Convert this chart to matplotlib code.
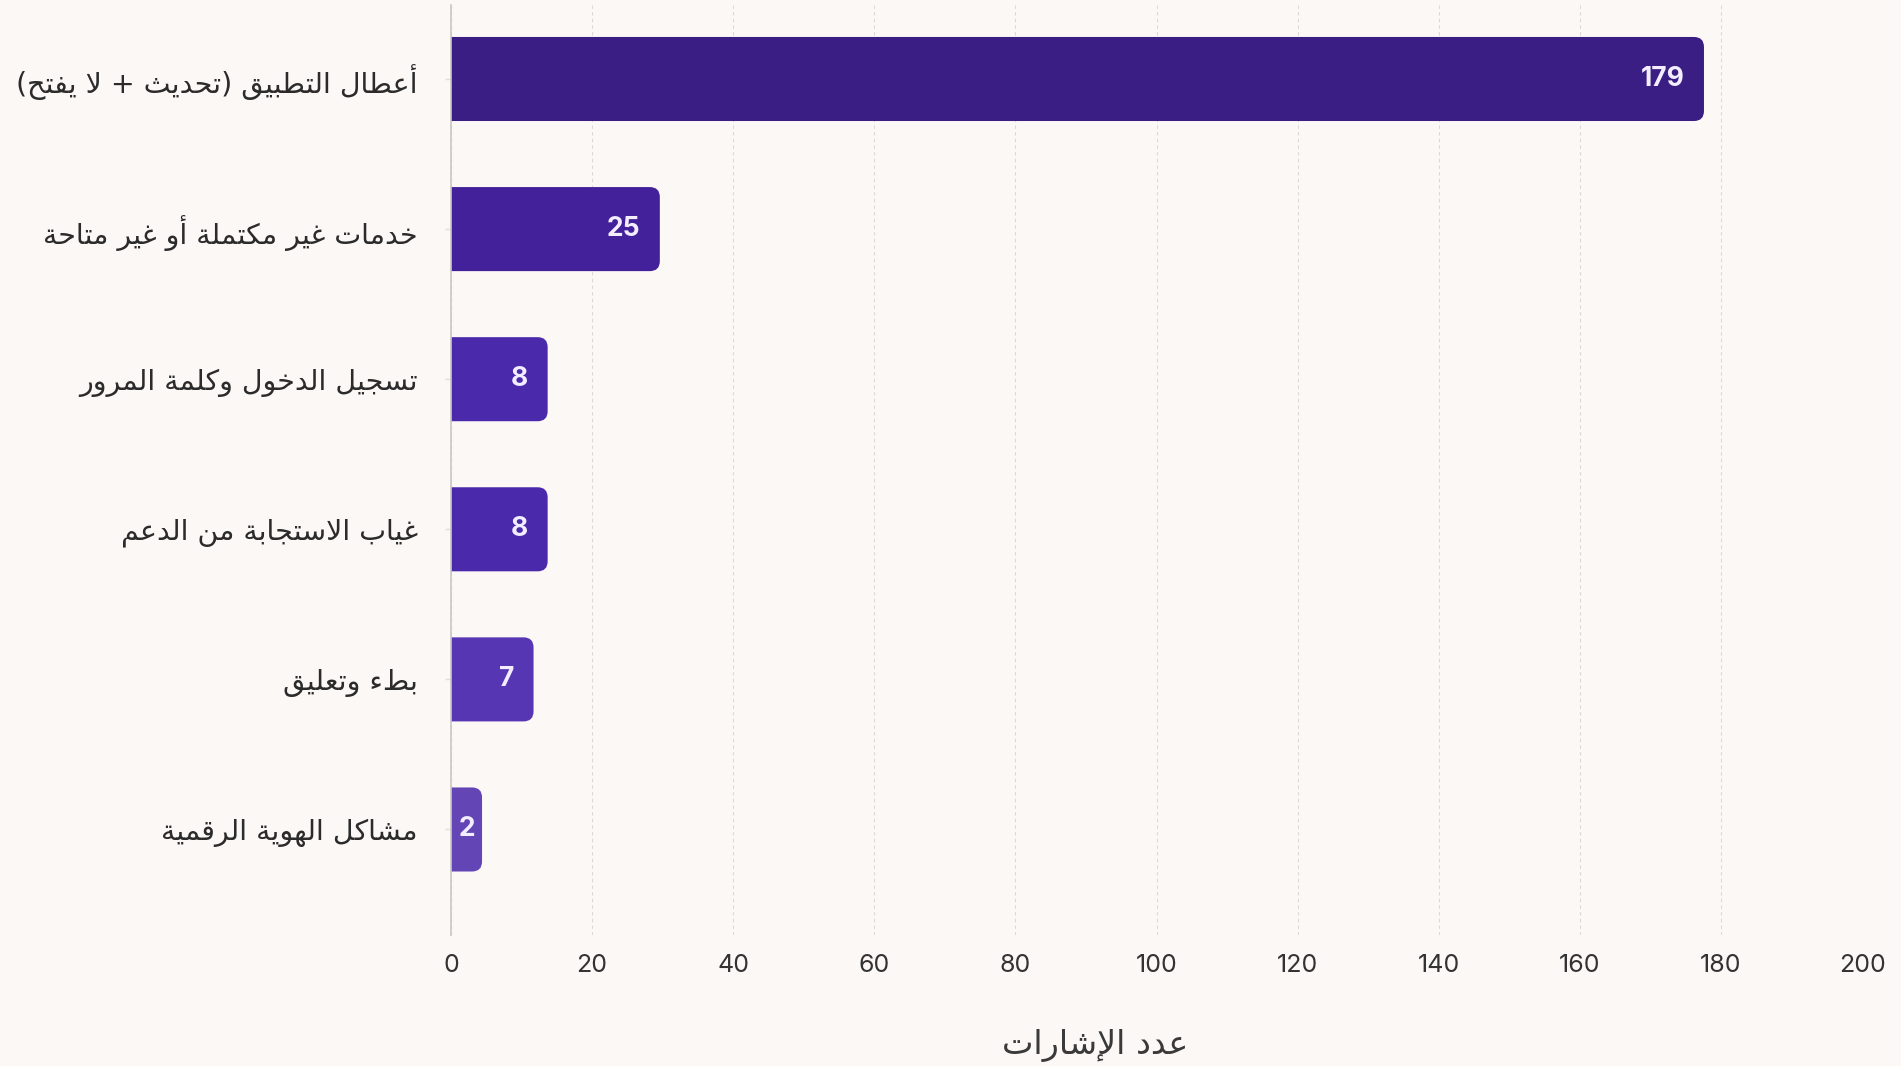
import numpy as np
import matplotlib
matplotlib.use("Agg")
import matplotlib.pyplot as plt
from matplotlib.patches import FancyBboxPatch

# ---- data ----
categories = [
    "أعطال التطبيق (تحديث + لا يفتح)",
    "خدمات غير مكتملة أو غير متاحة",
    "تسجيل الدخول وكلمة المرور",
    "غياب الاستجابة من الدعم",
    "بطء وتعليق",
    "مشاكل الهوية الرقمية",
]
counts = [179, 25, 8, 8, 7, 2]                       # numbers printed in the bars
bar_lengths = [177.6, 29.6, 13.7, 13.7, 11.7, 4.4]   # bar ends as read on the x axis
bar_colors = ["#3a1e84", "#42219a", "#4a2aab", "#4a2aab", "#5736b3", "#6445b5"]
x_ticks = [0, 20, 40, 60, 80, 100, 120, 140, 160, 180, 200]
x_title = "عدد الإشارات"

BG = "#fcf8f6"

# ---- minimal arabic shaping (matplotlib has no complex text layout) ----
DUAL = dict(zip("ئبتثجحخسشصضطظعغفقكلمنهي",
                [0xFE89, 0xFE8F, 0xFE95, 0xFE99, 0xFE9D, 0xFEA1, 0xFEA5, 0xFEB1,
                 0xFEB5, 0xFEB9, 0xFEBD, 0xFEC1, 0xFEC5, 0xFEC9, 0xFECD, 0xFED1,
                 0xFED5, 0xFED9, 0xFEDD, 0xFEE1, 0xFEE5, 0xFEE9, 0xFEF1]))
RIGHT = dict(zip("آأؤإاةدذرزوى",
                 [0xFE81, 0xFE83, 0xFE85, 0xFE87, 0xFE8D, 0xFE93, 0xFEA9, 0xFEAB,
                  0xFEAD, 0xFEAF, 0xFEED, 0xFEEF]))
LAM_ALEF = {"لآ": 0xFEF5, "لأ": 0xFEF7, "لإ": 0xFEF9, "لا": 0xFEFB}
MIRROR = {"(": ")", ")": "("}


def shape(text):
    units = []
    i = 0
    while i < len(text):
        c = text[i]
        pair = text[i:i + 2]
        if pair in LAM_ALEF:
            units.append((LAM_ALEF[pair], 2))
            i += 2
            continue
        if c in DUAL:
            units.append((DUAL[c], 4))
        elif c in RIGHT:
            units.append((RIGHT[c], 2))
        elif c == "ء":
            units.append((0xFE80, 1))
        else:
            units.append((c, 0))
        i += 1
    out = []
    for k, (base, n) in enumerate(units):
        if n == 0:
            out.append(MIRROR.get(base, base))
            continue
        prev_j = n >= 2 and k > 0 and units[k - 1][1] == 4
        next_j = n == 4 and k + 1 < len(units) and units[k + 1][1] >= 2
        if prev_j and next_j:
            idx = 3
        elif next_j:
            idx = 2
        elif prev_j:
            idx = 1
        else:
            idx = 0
        out.append(chr(base + idx))
    return "".join(reversed(out))


AR_FONT = ["DejaVu Sans"]
NUM_FONT = ["Inter", "DejaVu Sans"]

# ---- figure ----
fig = plt.figure(figsize=(19.01, 10.66), dpi=100, facecolor=BG)
ax = fig.add_axes([451 / 1901, 1 - 935 / 1066, (1862 - 451) / 1901, 930 / 1066])
ax.set_facecolor(BG)

y = np.arange(len(categories))
bars = ax.barh(y, bar_lengths, height=0.56, color=bar_colors)

# rounded right corners: replace every bar by a rounded box, left side clipped by the axis
px_x = (1862 - 451) / 200.0
px_y = 150.0
radius = 10.0
for rect, col in zip(bars, bar_colors):
    rect.set_visible(False)
    x0, y0 = rect.get_x(), rect.get_y()
    w, h = rect.get_width(), rect.get_height()
    r = radius / px_x
    box = FancyBboxPatch((x0 - 2 * r, y0), w + 2 * r, h,
                         boxstyle="round,pad=0,rounding_size=%f" % r,
                         mutation_aspect=(radius / px_y) / r,
                         facecolor=col, edgecolor="none", zorder=3)
    ax.add_patch(box)

for yi, ln, c in zip(y, bar_lengths, counts):
    if ln * px_x < 50:
        ax.text(ln / 2, yi, str(c), ha="center", va="center", color="#f3eeff",
                fontsize=19, fontweight="bold", family=NUM_FONT, zorder=4)
    else:
        ax.annotate(str(c), (ln, yi), xytext=(-14, 0), textcoords="offset points",
                    ha="right", va="center", color="#f3eeff", fontsize=19,
                    fontweight="bold", family=NUM_FONT, zorder=4)

ax.set_xlim(0, 200)
ax.set_ylim(5.703, -0.493)
ax.set_xticks(x_ticks)
ax.set_xticklabels([str(t) for t in x_ticks], family=NUM_FONT, fontsize=18, color="#333333")
ax.set_yticks(y)
ax.set_yticklabels([shape(c) for c in categories], family=AR_FONT, fontsize=20.5, color="#2b2b2b")
ax.tick_params(axis="x", length=0, pad=14)
ax.tick_params(axis="y", length=4, width=1, color="#e2dedc", pad=20)

ax.xaxis.grid(True, linestyle=(0, (3, 3)), color="#dcd8d6", linewidth=0.8, zorder=0)
ax.set_axisbelow(True)
for side in ["top", "right", "bottom"]:
    ax.spines[side].set_visible(False)
ax.spines["left"].set_color("#c9c6c4")
ax.spines["left"].set_linewidth(1.2)
ax.spines["left"].set_zorder(5)

fig.text(1095 / 1901, 1 - 1045 / 1066, shape(x_title), ha="center", va="center",
         family=AR_FONT, fontsize=24, color="#3a3a3a")

fig.savefig("out.png", dpi=100, facecolor=BG)
